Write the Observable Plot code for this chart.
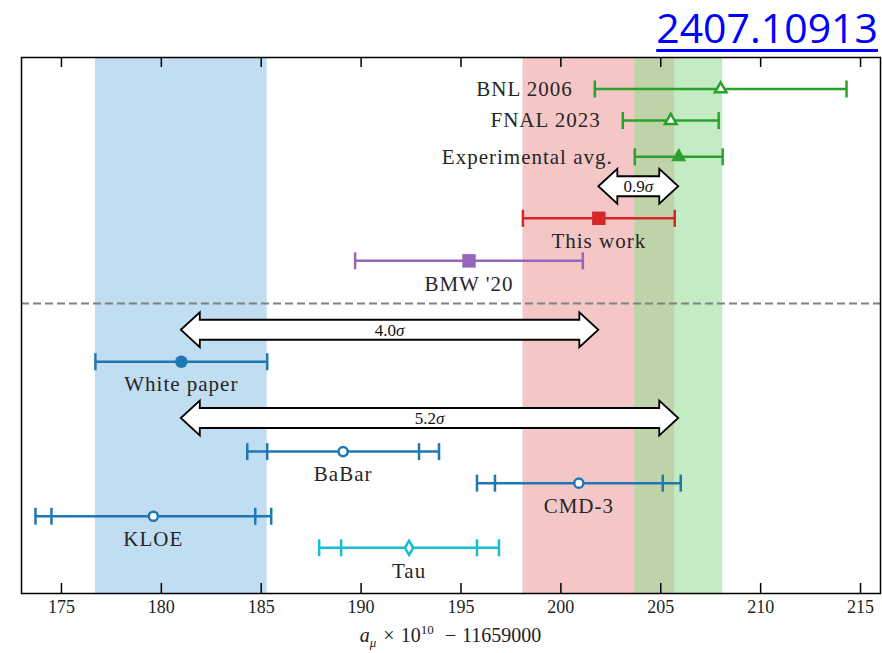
<!DOCTYPE html>
<html>
<head>
<meta charset="utf-8">
<script src="https://cdn.jsdelivr.net/npm/d3@7"></script>
<script src="https://cdn.jsdelivr.net/npm/@observablehq/plot@0.6"></script>
<style>
  body { margin: 0; background: #fff; }
  #wrap { position: relative; width: 882px; height: 653px; }
  #ref {
    position: absolute; right: 4px; top: 7px;
    font-family: "Open Sans", sans-serif; font-size: 41px; line-height: 41px;
    color: #0000ff; text-decoration: underline; text-decoration-thickness: 3px;
    text-underline-offset: 6px;
  }
  #xlabel {
    position: absolute; left: 21px; width: 859px; top: 624px; text-align: center;
    font-family: "Liberation Serif", "DejaVu Serif", serif; font-size: 20px; color: #222; line-height: 22px;
  }
  #xlabel sub, #xlabel sup { font-size: 13px; line-height: 0; }
  #xlabel .times { margin: 0 6px 0 7px; }
  #xlabel .minus { margin: 0 6px 0 11px; }
  svg text { font-family: "Liberation Serif", "DejaVu Serif", serif; }
  g[aria-label="text"] text { letter-spacing: 1px; }
</style>
</head>
<body>
<div id="wrap">
  <div id="chart"></div>
  <div id="ref">2407.10913</div>
  <div id="xlabel"><i>a</i><sub><i>μ</i></sub><span class="times">×</span>10<sup>10</sup><span class="minus">−</span>11659000</div>
</div>
<script>
// Values of a_mu x 1e10 - 11659000 for each entry
const names       = ["BNL 2006", "FNAL 2023", "Experimental avg.", "This work", "BMW '20",
                     "White paper", "BaBar", "CMD-3", "KLOE", "Tau"];
const centrals    = [208.0, 205.5, 205.9, 201.9, 195.4, 181.0, 189.1, 200.9, 179.6, 192.4];
const innerErrors = [6.3, 2.4, 2.2, 3.8, 5.7, 4.3, 3.8, 4.2, 5.1, 3.4];
const totalErrors = [6.3, 2.4, 2.2, 3.8, 5.7, 4.3, 4.8, 5.1, 5.9, 4.5];
// Vertical slot of each entry, top to bottom
const rowLevels   = [1.0, 2.0, 3.15, 5.1, 6.45, 9.65, 12.5, 13.5, 14.55, 15.55];

// Tension arrows between entries
const arrowLabels = ["0.9", "4.0", "5.2"];
const arrowFrom   = ["This work", "White paper", "White paper"];
const arrowTo     = ["Experimental avg.", "This work", "Experimental avg."];
const arrowRows   = [4.1, 8.65, 11.45];

const separatorRow = 7.8;
const xTicks = [175, 180, 185, 190, 195, 200, 205, 210, 215];

// Marker styling per entry
const green = "#2ca02c", red = "#d62728", purple = "#9467bd", blue = "#1f77b4", cyan = "#17becf";
const style = {
  "BNL 2006":          {color: green,  symbol: "triangle", r: 4.3, open: true,  label: "left"},
  "FNAL 2023":         {color: green,  symbol: "triangle", r: 4.3, open: true,  label: "left"},
  "Experimental avg.": {color: green,  symbol: "triangle", r: 5.6, open: false, label: "left"},
  "This work":         {color: red,    symbol: "square",   r: 7.6, open: false, label: "below"},
  "BMW '20":           {color: purple, symbol: "square",   r: 7.6, open: false, label: "below"},
  "White paper":       {color: blue,   symbol: "circle",   r: 6.2, open: false, label: "below"},
  "BaBar":             {color: blue,   symbol: "circle",   r: 4.6, open: true,  label: "below"},
  "CMD-3":             {color: blue,   symbol: "circle",   r: 4.6, open: true,  label: "below"},
  "KLOE":              {color: blue,   symbol: "circle",   r: 4.6, open: true,  label: "below"},
  "Tau":               {color: cyan,   symbol: "diamond",  r: 4.3, open: true,  label: "below"}
};

const entries = names.map((name, i) => ({
  name, value: centrals[i], inner: innerErrors[i], total: totalErrors[i], row: rowLevels[i]
}));
const byName = Object.fromEntries(entries.map(d => [d.name, d]));

// Shaded bands: white paper, this work, experimental average
const wp = byName["White paper"], tw = byName["This work"], ex = byName["Experimental avg."];
const bands = [
  {lo: wp.value - wp.total, hi: wp.value + wp.total, fill: "#c0ddf2"},
  {lo: tw.value - tw.total, hi: tw.value + tw.total, fill: "#f4c6c6"},
  {lo: ex.value - ex.total, hi: ex.value + ex.total, fill: "#c3ecc5"},
  {lo: Math.max(tw.value - tw.total, ex.value - ex.total),
   hi: Math.min(tw.value + tw.total, ex.value + ex.total), fill: "#bfd3a9"}
];

// Error-bar caps (inner and, where different, total uncertainty)
const caps = entries.flatMap(d => {
  const out = [d.value - d.inner, d.value + d.inner];
  if (d.total !== d.inner) out.push(d.value - d.total, d.value + d.total);
  return out.map(x => ({x, row: d.row, color: style[d.name].color}));
});

// Vertical bar glyph for the caps
const capSymbol = {
  draw(context, size) {
    const h = Math.sqrt(size / Math.PI);
    context.moveTo(0, -h);
    context.lineTo(0, h);
  }
};

const arrows = arrowLabels.map((label, i) => ({
  label, from: byName[arrowFrom[i]].value, to: byName[arrowTo[i]].value, row: arrowRows[i]
}));

const serif = "Liberation Serif, DejaVu Serif, serif";

// Double-headed outline arrows with a sigma label
function sigmaArrows(data) {
  const headLen = 19, headHalf = 17.5, bodyHalf = 10;
  return (index, scales) => {
    const g = d3.create("svg:g").attr("aria-label", "sigma arrows");
    for (const a of data) {
      const x1 = scales.x(a.from), x2 = scales.x(a.to), y = scales.y(a.row);
      const pts = [
        [x1, y], [x1 + headLen, y - headHalf], [x1 + headLen, y - bodyHalf],
        [x2 - headLen, y - bodyHalf], [x2 - headLen, y - headHalf], [x2, y],
        [x2 - headLen, y + headHalf], [x2 - headLen, y + bodyHalf],
        [x1 + headLen, y + bodyHalf], [x1 + headLen, y + headHalf]
      ];
      g.append("path")
        .attr("d", "M" + pts.map(p => p.join(",")).join("L") + "Z")
        .attr("fill", "white").attr("stroke", "black")
        .attr("stroke-width", 1.8).attr("stroke-linejoin", "miter");
      const t = g.append("text")
        .attr("x", (x1 + x2) / 2).attr("y", y).attr("dy", "0.35em")
        .attr("text-anchor", "middle")
        .attr("font-size", 17)
        .attr("fill", "#111");
      t.append("tspan").text(a.label);
      t.append("tspan").attr("font-style", "italic").text("σ");
    }
    return g.node();
  };
}

const plot = Plot.plot({
  width: 882,
  height: 653,
  marginLeft: 21,
  marginRight: 2,
  marginTop: 57,
  marginBottom: 60,
  x: {domain: [173, 216], label: null},
  y: {domain: [0, 17], reverse: true, axis: null},
  color: {type: "identity"},
  marks: [
    Plot.rect(bands, {x1: "lo", x2: "hi", fill: "fill"}),
    Plot.ruleY([separatorRow], {stroke: "#808080", strokeWidth: 2, strokeDasharray: "8,4"}),
    sigmaArrows(arrows),
    Plot.ruleY(entries, {
      y: "row", x1: d => d.value - d.total, x2: d => d.value + d.total,
      stroke: d => style[d.name].color, strokeWidth: 2.5
    }),
    Plot.dot(caps, {
      x: "x", y: "row", symbol: capSymbol, r: 8.5,
      stroke: "color", fill: "none", strokeWidth: 2.5
    }),
    ...entries.map(d => {
      const s = style[d.name];
      return Plot.dot([d], {
        x: "value", y: "row", symbol: s.symbol, r: s.r,
        fill: s.open ? "white" : s.color, stroke: s.color,
        strokeWidth: s.open ? 2.5 : 0
      });
    }),
    Plot.text(entries.filter(d => style[d.name].label === "below"), {
      x: "value", y: "row", text: "name", dy: 23,
      fontSize: 21, fontFamily: serif, fill: "#262626"
    }),
    Plot.text(entries.filter(d => style[d.name].label === "left"), {
      x: d => d.value - d.total, y: "row", text: "name", dx: -22, textAnchor: "end",
      fontSize: 21, fontFamily: serif, fill: "#262626"
    }),
    // inward ticks on the top and bottom edges
    Plot.ruleX(xTicks, {x: d => d, insetBottom: 526, stroke: "black", strokeWidth: 1.5}),
    Plot.ruleX(xTicks, {x: d => d, insetTop: 526, stroke: "black", strokeWidth: 1.5}),
    Plot.axisX({
      ticks: xTicks, tickSize: 0, tickPadding: 7, label: null,
      fontSize: 18, fontFamily: serif, color: "#222"
    }),
    Plot.frame({stroke: "black", strokeWidth: 1.5})
  ]
});

document.getElementById("chart").appendChild(plot);
</script>
</body>
</html>
